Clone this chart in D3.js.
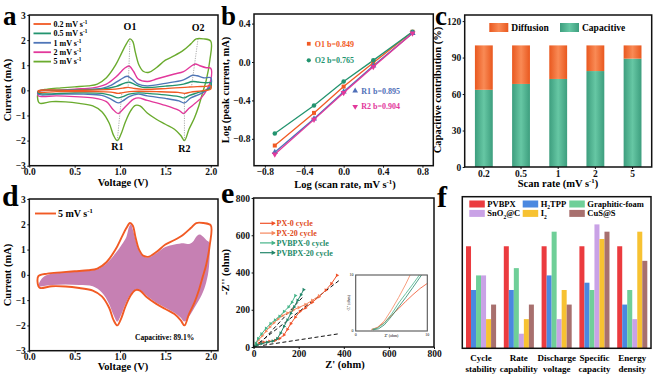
<!DOCTYPE html>
<html>
<head>
<meta charset="utf-8">
<script src="https://cdn.jsdelivr.net/npm/d3@7"></script>
<style>
  body { margin: 0; background: #fff; }
  svg { display: block; font-family: "Liberation Serif", "Times New Roman", serif; font-weight: bold; }
</style>
</head>
<body>
<svg id="fig" width="655" height="375"></svg>
<script>
// ---------------- data ----------------
// a: CV loops [V, mA], upper branch left->right then lower branch right->left
const cvRates = ["0.2", "0.5", "1", "2", "5"];
const cv02 = [[0.1,-0.02],[0.5,0.0],[0.9,0.04],[1.03,0.09],[1.09,0.12],[1.15,0.08],[1.25,0.04],[1.5,0.07],[1.75,0.13],[1.85,0.15],[1.95,0.16],[2.0,0.18],
  [2.0,0.05],[1.9,-0.02],[1.78,-0.07],[1.71,-0.12],[1.64,-0.08],[1.4,-0.05],[1.15,-0.04],[1.03,-0.09],[0.98,-0.12],[0.9,-0.07],[0.7,-0.05],[0.3,-0.05],[0.1,-0.07]];
const cv05 = [[0.1,-0.03],[0.4,0.0],[0.8,0.05],[0.96,0.16],[1.05,0.29],[1.1,0.32],[1.16,0.24],[1.25,0.12],[1.5,0.17],[1.7,0.25],[1.8,0.35],[1.86,0.33],[1.95,0.3],[2.0,0.3],
  [2.0,0.1],[1.94,0.0],[1.85,-0.1],[1.76,-0.21],[1.71,-0.3],[1.65,-0.25],[1.5,-0.18],[1.3,-0.12],[1.2,-0.1],[1.1,-0.15],[1.03,-0.25],[0.98,-0.3],[0.9,-0.2],[0.8,-0.12],[0.5,-0.1],[0.1,-0.11]];
const cv1 = [[0.1,-0.05],[0.3,0.0],[0.6,0.03],[0.8,0.08],[0.9,0.2],[1.0,0.42],[1.08,0.56],[1.13,0.45],[1.2,0.25],[1.3,0.18],[1.5,0.28],[1.7,0.42],[1.8,0.6],[1.85,0.58],[1.92,0.5],[2.0,0.5],
  [2.0,0.2],[1.95,0.0],[1.88,-0.15],[1.78,-0.3],[1.71,-0.5],[1.65,-0.42],[1.5,-0.32],[1.3,-0.22],[1.2,-0.15],[1.1,-0.25],[1.03,-0.42],[0.98,-0.5],[0.9,-0.35],[0.8,-0.2],[0.6,-0.15],[0.3,-0.15],[0.1,-0.16]];
const cv2 = [[0.1,-0.04],[0.3,0.0],[0.5,0.05],[0.7,0.1],[0.85,0.25],[0.96,0.55],[1.05,0.88],[1.1,0.97],[1.15,0.75],[1.2,0.45],[1.3,0.35],[1.4,0.45],[1.5,0.55],[1.6,0.65],[1.7,0.75],[1.78,0.95],[1.83,1.05],[1.88,0.98],[1.95,0.9],[2.0,0.88],
  [2.0,0.4],[1.96,0.05],[1.9,-0.28],[1.8,-0.6],[1.75,-0.75],[1.7,-0.92],[1.65,-0.8],[1.5,-0.6],[1.3,-0.4],[1.2,-0.3],[1.15,-0.35],[1.1,-0.5],[1.02,-0.8],[0.98,-0.92],[0.92,-0.75],[0.85,-0.45],[0.7,-0.3],[0.5,-0.25],[0.3,-0.22],[0.1,-0.22]];
const cv5 = [[0.1,-0.05],[0.2,0.05],[0.35,0.1],[0.5,0.14],[0.65,0.18],[0.75,0.25],[0.85,0.5],[0.95,1.0],[1.02,1.5],[1.07,1.85],[1.11,2.05],[1.14,1.95],[1.17,1.5],[1.21,1.0],[1.26,0.75],[1.32,0.72],[1.4,0.9],[1.5,1.2],[1.6,1.38],[1.7,1.6],[1.78,1.85],[1.84,2.05],[1.92,2.05],[2.0,1.96],
  [1.99,1.2],[1.95,0.4],[1.91,-0.1],[1.87,-0.6],[1.82,-1.1],[1.76,-1.55],[1.71,-2.0],[1.67,-1.8],[1.6,-1.55],[1.5,-1.35],[1.4,-1.15],[1.3,-0.9],[1.22,-0.62],[1.17,-0.6],[1.12,-0.8],[1.06,-1.25],[1.01,-1.75],[0.97,-2.0],[0.93,-1.8],[0.88,-1.3],[0.8,-0.85],[0.7,-0.62],[0.55,-0.52],[0.4,-0.46],[0.25,-0.45],[0.12,-0.52],[0.1,-0.45]];
const peakO1 = [[1.11,2.05],[1.09,0.12]];
const peakO2 = [[1.86,2.05],[1.79,0.2]];
const peakR1 = [[0.97,-2.0],[1.02,-0.12]];
const peakR2 = [[1.71,-2.0],[1.71,-0.12]];

// b: log peak current vs log scan rate
const logRate = [-0.699, -0.301, 0, 0.301, 0.699];
const logO1 = [-0.87, -0.53, -0.256, -0.007, 0.315];
const logO2 = [-0.744, -0.453, -0.204, 0.017, 0.315];
const logR1 = [-0.94, -0.59, -0.31, -0.04, 0.30];
const logR2 = [-0.96, -0.60, -0.32, -0.05, 0.30];
const peakNames = ["O1", "O2", "R1", "R2"];
const bValues = ["0.849", "0.765", "0.895", "0.904"];

// c: capacitive contribution (%)
const scanRates = ["0.2", "0.5", "1", "2", "5"];
const capacitive = [63.5, 68.3, 72.4, 78.9, 89.1];

// d: capacitive region at 5 mV/s
const capShape = [[0.1,-0.4],[0.15,-0.1],[0.25,0.05],[0.4,0.1],[0.6,0.15],[0.75,0.22],[0.85,0.45],[0.95,0.85],[1.02,1.2],[1.07,1.5],[1.1,1.9],[1.12,2.0],[1.14,1.8],[1.17,1.4],[1.21,0.95],[1.26,0.72],[1.32,0.7],[1.4,0.85],[1.5,1.1],[1.6,1.2],[1.7,1.25],[1.76,1.22],[1.8,1.3],[1.85,1.55],[1.88,1.6],[1.92,1.5],[1.96,1.35],[1.98,1.3],
  [1.98,0.3],[1.95,-0.3],[1.9,-0.8],[1.82,-1.3],[1.76,-1.65],[1.71,-1.85],[1.67,-1.7],[1.6,-1.5],[1.5,-1.3],[1.4,-1.1],[1.3,-0.85],[1.22,-0.6],[1.17,-0.58],[1.12,-0.75],[1.06,-1.15],[1.01,-1.6],[0.97,-1.85],[0.93,-1.6],[0.88,-1.15],[0.8,-0.7],[0.7,-0.45],[0.55,-0.4],[0.4,-0.38],[0.25,-0.4],[0.1,-0.45]];

// e: Nyquist plots [Z', -Z''] (ohm)
const eNames = ["PX-0 cycle", "PX-20 cycle", "PVBPX-0 cycle", "PVBPX-20 cycle"];
const px0 = [[5,3],[12,10],[25,18],[45,25],[70,30],[95,35],[115,45],[135,65],[150,95],[165,125],[185,160],[205,190],[230,210],[260,240],[290,270],[320,305],[345,340],[370,385]];
const px20 = [[3,3],[10,18],[22,38],[38,60],[55,85],[72,108],[90,130],[108,150],[128,168],[150,182],[175,198],[200,212],[230,228],[260,250],[290,275]];
const pvbpx0 = [[3,3],[10,20],[20,45],[35,70],[55,100],[75,125],[95,145],[115,165],[135,190],[155,215],[170,240],[185,276]];
const pvbpx20 = [[3,3],[15,10],[35,18],[60,25],[85,32],[105,45],[120,75],[135,110],[150,145],[165,180],[180,215],[195,250],[210,280],[222,308]];
const eFits = [[[0,0],[378,356]], [[28,18],[217,267]], [[42,9],[378,71]]];
// e inset, zoomed 0-10 ohm
const px0In = [[2.2,0.2],[3,0.6],[4,1.5],[5,2.8],[6,4.0],[7,5.3],[8,6.5],[9,7.6],[10,8.5]];
const px20In = [[2.2,0.3],[3,0.6],[4,1.8],[5,3.8],[6,6.0],[7,8.4],[7.6,10]];
const pvbpx0In = [[2.3,0.3],[3,0.5],[4,1.4],[5,3.0],[6,5.0],[7,6.7],[8,8.4],[8.9,10]];
const pvbpx20In = [[2.4,0.2],[3.2,0.4],[4,1.1],[5,2.6],[6,4.3],[7,6.0],[8,7.8],[9.2,10]];

// f: comparison scores
const metrics = [["Cycle", "stability"], ["Rate", "capability"], ["Discharge", "voltage"], ["Specific", "capacity"], ["Energy", "density"]];
const materials = ["PVBPX", "H2TPP", "Graphitic-foam", "SnO2@C", "I2", "CuS@S"];
const fPVBPX = [7, 7, 7, 7, 7];
const fH2TPP = [4, 4, 5, 4.5, 3];
const fGraphitic = [5, 5.5, 8, 4, 4];
const fSnO2 = [5, 1, 2, 8.5, 2];
const fI2 = [2, 2, 4, 7.5, 8];
const fCuS = [3, 3, 3, 8, 6];

// ---------------- drawing ----------------
const svg = d3.select("#fig");
const ink = "#111";
const cvColors = ["#f15a24", "#23946f", "#4f76b8", "#e2389b", "#6aab2e"];
const bColors = ["#f15a24", "#23946f", "#4f6fb8", "#e2389b"];
const eColors = ["#f0522a", "#f5875e", "#45b489", "#23866a"];
const fColors = ["#eb3b3f", "#4a88e0", "#6fcf98", "#c9a2e6", "#f7c232", "#a8706e"];

function rich(sel, parts, fs) {
  let off = 0;
  parts.forEach(([s, k]) => {
    const target = k === "sup" ? -fs * 0.38 : k === "sub" ? fs * 0.25 : 0;
    const t = sel.append("tspan").text(s).attr("dy", target - off);
    if (k) t.attr("font-size", fs * 0.65);
    off = target;
  });
  return sel;
}

function frame(g, x, y, w) {
  const [x0, x1] = x.range(), [y0, y1] = y.range();
  g.append("rect")
    .attr("x", Math.min(x0, x1)).attr("y", Math.min(y0, y1))
    .attr("width", Math.abs(x1 - x0)).attr("height", Math.abs(y1 - y0))
    .attr("fill", "none").attr("stroke", ink).attr("stroke-width", w || 1.5);
}

function styleAxis(g, fs) {
  g.attr("font-family", null).attr("font-size", null);
  g.select(".domain").remove();
  g.selectAll(".tick line").attr("stroke", ink);
  g.selectAll(".tick text").attr("fill", ink).attr("font-size", fs);
}

function bottomAxis(g, x, y0, ticks, fmt) {
  g.append("g").attr("transform", `translate(0,${y0})`)
    .call(d3.axisBottom(x).tickValues(ticks).tickFormat(fmt).tickSize(2).tickPadding(1))
    .call(a => styleAxis(a, 9.5));
}
function leftAxis(g, y, x0, ticks, fmt) {
  g.append("g").attr("transform", `translate(${x0},0)`)
    .call(d3.axisLeft(y).tickValues(ticks).tickFormat(fmt).tickSize(2).tickPadding(1.5))
    .call(a => styleAxis(a, 9.5));
}

function xTitle(g, x, y, parts) {
  rich(g.append("text").attr("x", x).attr("y", y).attr("text-anchor", "middle").attr("font-size", 10.5), parts, 10.5);
}
function yTitle(g, x, y, parts) {
  rich(g.append("text").attr("transform", `translate(${x},${y}) rotate(-90)`).attr("text-anchor", "middle").attr("font-size", 10.5), parts, 10.5);
}
function panelLetter(x, y, s, fs) {
  svg.append("text").attr("x", x).attr("y", y).attr("font-size", fs).text(s);
}

// ===== a =====
{
  const g = svg.append("g");
  const x = d3.scaleLinear([0, 2.08], [29.3, 218]);
  const y = d3.scaleLinear([-3, 3], [165.7, 15]);
  const line = d3.line(d => x(d[0]), d => y(d[1])).curve(d3.curveCatmullRomClosed.alpha(0.5));
  const sets = [cv02, cv05, cv1, cv2, cv5];
  for (let i = sets.length - 1; i >= 0; i--) {
    g.append("path").attr("d", line(sets[i])).attr("fill", "none")
      .attr("stroke", cvColors[i]).attr("stroke-width", 1.4);
  }
  const dl = d3.line(d => x(d[0]), d => y(d[1]));
  [peakO1, peakO2, peakR1, peakR2].forEach(p => {
    g.append("path").attr("d", dl(p)).attr("stroke", "#888").attr("stroke-width", 0.7)
      .attr("stroke-dasharray", "1.2,1.2").attr("fill", "none");
  });
  [["O1", peakO1[0], 0.45], ["O2", peakO2[0], 0.4], ["R1", peakR1[0], -0.3], ["R2", peakR2[0], -0.38]].forEach(([s, p, dy]) => {
    g.append("text").attr("x", x(p[0])).attr("y", y(p[1] + dy)).attr("text-anchor", "middle")
      .attr("dominant-baseline", "middle").attr("font-size", 10).text(s);
  });
  frame(g, x, y);
  bottomAxis(g, x, 165.7, [0, 0.5, 1, 1.5, 2], d3.format(".1f"));
  leftAxis(g, y, 29.3, [-3, -2, -1, 0, 1, 2, 3], d3.format("d"));
  xTitle(g, 123, 185.5, [["Voltage (V)"]]);
  yTitle(g, 11, 90, [["Current (mA)"]]);
  cvRates.forEach((r, i) => {
    const ly = 24 + i * 9.4;
    g.append("line").attr("x1", 33.5).attr("x2", 51).attr("y1", ly).attr("y2", ly)
      .attr("stroke", cvColors[i]).attr("stroke-width", 1.8);
    rich(g.append("text").attr("x", 53.5).attr("y", ly + 2.8).attr("font-size", 8), [[r + " mV s"], ["-1", "sup"]], 8);
  });
}

// ===== b =====
{
  const g = svg.append("g");
  const x = d3.scaleLinear([-0.91, 0.91], [254, 433.3]);
  const y = d3.scaleLinear([-1.08, 0.5], [165.7, 14]);
  const series = [logO1, logO2, logR1, logR2];
  const shapes = [d3.symbolSquare, d3.symbolCircle, d3.symbolTriangle, d3.symbolTriangle];
  const line = d3.line((d, i) => x(logRate[i]), d => y(d));
  series.forEach((s, k) => {
    g.append("path").attr("d", line(s)).attr("fill", "none").attr("stroke", bColors[k]).attr("stroke-width", 1.3);
  });
  series.forEach((s, k) => {
    g.selectAll(null).data(s).join("path")
      .attr("d", d3.symbol(shapes[k], 16))
      .attr("transform", (d, i) => `translate(${x(logRate[i])},${y(d)})${k === 3 ? " rotate(180)" : ""}`)
      .attr("fill", bColors[k]);
  });
  const legPos = [[-0.354, 0.19], [-0.354, 0.017], [0.117, -0.30], [0.117, -0.464]];
  peakNames.forEach((n, k) => {
    const [lx, ly] = legPos[k];
    g.append("path").attr("d", d3.symbol(shapes[k], 14))
      .attr("transform", `translate(${x(lx)},${y(ly)})${k === 3 ? " rotate(180)" : ""}`).attr("fill", bColors[k]);
    g.append("text").attr("x", x(lx) + 6).attr("y", y(ly) + 2.8).attr("font-size", 8)
      .attr("fill", bColors[k]).text(`${n} b=${bValues[k]}`);
  });
  frame(g, x, y);
  bottomAxis(g, x, 165.7, [-0.8, -0.4, 0, 0.4, 0.8], d3.format(".1f"));
  leftAxis(g, y, 254, [-0.8, -0.4, 0, 0.4], d3.format(".1f"));
  xTitle(g, 345, 187.5, [["Log (scan rate, mV s"], ["-1", "sup"], [")"]]);
  yTitle(g, 229, 90, [["Log (peak current, mA)"]]);
}

// ===== c =====
{
  const g = svg.append("g");
  const x = d3.scaleBand(scanRates, [464.7, 651.7]).paddingInner(0.52).paddingOuter(0.275);
  const y = d3.scaleLinear([0, 125], [167, 15]);
  const defs = svg.append("defs");
  [["gDiff", "#e9581f", "#f98a55"], ["gCap", "#3d9e7e", "#66c7a4"]].forEach(([id, e, m]) => {
    const lg = defs.append("linearGradient").attr("id", id);
    lg.append("stop").attr("offset", "0%").attr("stop-color", e);
    lg.append("stop").attr("offset", "50%").attr("stop-color", m);
    lg.append("stop").attr("offset", "100%").attr("stop-color", e);
  });
  g.selectAll(null).data(scanRates).join("rect")
    .attr("x", d => x(d)).attr("width", x.bandwidth())
    .attr("y", (d, i) => y(capacitive[i])).attr("height", (d, i) => y(0) - y(capacitive[i]))
    .attr("fill", "url(#gCap)");
  g.selectAll(null).data(scanRates).join("rect")
    .attr("x", d => x(d)).attr("width", x.bandwidth())
    .attr("y", y(100)).attr("height", (d, i) => y(capacitive[i]) - y(100))
    .attr("fill", "url(#gDiff)");
  frame(g, d3.scaleLinear().range([464.7, 651.7]), y);
  g.append("g").attr("transform", "translate(0,167)")
    .call(d3.axisBottom(x).tickSize(2).tickPadding(1)).call(a => styleAxis(a, 9.5));
  leftAxis(g, y, 464.7, [0, 30, 60, 90, 120], d3.format("d"));
  [["Diffusion", "url(#gDiff)", 489.3], ["Capacitive", "url(#gCap)", 560]].forEach(([s, f, lx]) => {
    g.append("rect").attr("x", lx).attr("y", 23).attr("width", 19).attr("height", 9).attr("fill", f);
    g.append("text").attr("x", lx + 22).attr("y", 30.8).attr("font-size", 9.5).text(s);
  });
  xTitle(g, 558, 187, [["Scan rate (mV s"], ["-1", "sup"], [")"]]);
  yTitle(g, 441, 90, [["Capacitive contribution (%)"]]);
}

// ===== d =====
{
  const g = svg.append("g");
  const x = d3.scaleLinear([0, 2.08], [29.3, 218]);
  const y = d3.scaleLinear([-3, 3], [350.7, 199]);
  const line = d3.line(d => x(d[0]), d => y(d[1])).curve(d3.curveCatmullRomClosed.alpha(0.5));
  g.append("path").attr("d", line(capShape)).attr("fill", "#c680b3").attr("stroke", "none");
  g.append("path").attr("d", line(cv5)).attr("fill", "none").attr("stroke", "#f15a24").attr("stroke-width", 1.9);
  frame(g, x, y);
  bottomAxis(g, x, 350.7, [0, 0.5, 1, 1.5, 2], d3.format(".1f"));
  leftAxis(g, y, 29.3, [-3, -2, -1, 0, 1, 2, 3], d3.format("d"));
  xTitle(g, 123, 370, [["Voltage (V)"]]);
  yTitle(g, 11, 275, [["Current (mA)"]]);
  g.append("line").attr("x1", 35).attr("x2", 56).attr("y1", 213.5).attr("y2", 213.5)
    .attr("stroke", "#f15a24").attr("stroke-width", 1.9);
  rich(g.append("text").attr("x", 58).attr("y", 217).attr("font-size", 10), [["5 mV s"], ["-1", "sup"]], 10);
  g.append("text").attr("x", 135).attr("y", 340).attr("font-size", 7.5).text("Capacitive: 89.1%");
}

// ===== e =====
{
  const g = svg.append("g");
  const x = d3.scaleLinear([0, 800], [253.6, 434]);
  const y = d3.scaleLinear([0, 800], [347, 198]);
  const sets = [px0, px20, pvbpx0, pvbpx20];
  const line = d3.line(d => x(d[0]), d => y(d[1]));
  eFits.forEach(f => {
    g.append("path").attr("d", line(f)).attr("stroke", ink).attr("stroke-width", 1)
      .attr("stroke-dasharray", "4,2.5").attr("fill", "none");
  });
  const tri = d3.symbol(d3.symbolTriangle, 6);
  sets.forEach((s, k) => {
    g.append("path").attr("d", line(s)).attr("fill", "none").attr("stroke", eColors[k]).attr("stroke-width", 1);
    g.selectAll(null).data(s).join("path").attr("d", tri)
      .attr("transform", d => `translate(${x(d[0])},${y(d[1])}) rotate(90)`).attr("fill", eColors[k]);
  });
  frame(g, x, y);
  bottomAxis(g, x, 347, [0, 200, 400, 600, 800], d3.format("d"));
  leftAxis(g, y, 253.6, [0, 200, 400, 600, 800], d3.format("d"));
  xTitle(g, 345, 368, [["Z' (ohm)"]]);
  yTitle(g, 229, 272, [["-Z'' (ohm)"]]);
  eNames.forEach((n, k) => {
    const ly = 223.3 + k * 9.8;
    g.append("line").attr("x1", 260).attr("x2", 275).attr("y1", ly).attr("y2", ly)
      .attr("stroke", eColors[k]).attr("stroke-width", 1.2);
    g.append("path").attr("d", d3.symbol(d3.symbolTriangle, 10))
      .attr("transform", `translate(273,${ly}) rotate(90)`).attr("fill", eColors[k]);
    g.append("text").attr("x", 276.5).attr("y", ly + 2.8).attr("font-size", 8)
      .attr("fill", k < 2 ? "#e04a22" : "#238a68").text(n);
  });
  // inset
  const xi = d3.scaleLinear([0, 10], [355.7, 427.3]);
  const yi = d3.scaleLinear([0, 10], [331, 275]);
  const li = d3.line(d => xi(d[0]), d => yi(d[1]));
  g.append("rect").attr("x", 355.7).attr("y", 275).attr("width", 71.6).attr("height", 56).attr("fill", "#fff");
  [px0In, px20In, pvbpx0In, pvbpx20In].forEach((s, k) => {
    g.append("path").attr("d", li(s)).attr("fill", "none").attr("stroke", eColors[k]).attr("stroke-width", 0.8);
  });
  g.append("rect").attr("x", 355.7).attr("y", 275).attr("width", 71.6).attr("height", 56)
    .attr("fill", "none").attr("stroke", "#555").attr("stroke-width", 1.1);
  const small = (tx, ty, s, anchor) => g.append("text").attr("x", tx).attr("y", ty).attr("font-size", 4)
    .attr("font-weight", "normal").attr("text-anchor", anchor || "middle").text(s);
  small(xi(0), 336, "0"); small(xi(10), 336, "10"); small(xi(5), 336.5, "Z' (ohm)");
  small(353.5, yi(0) + 1.3, "0", "end"); small(353.5, yi(10) + 1.3, "10", "end");
  g.append("text").attr("transform", `translate(350,303) rotate(-90)`).attr("text-anchor", "middle")
    .attr("font-size", 4).attr("font-weight", "normal").text("-Z'' (ohm)");
}

// ===== f =====
{
  const g = svg.append("g");
  const x = d3.scaleBand(d3.range(metrics.length), [462.3, 651]).paddingInner(0.204).paddingOuter(0.098);
  const xi = d3.scaleBand(materials, [0, x.bandwidth()]);
  const y = d3.scaleLinear([0, 10.4], [348.3, 196.7]);
  const fData = [fPVBPX, fH2TPP, fGraphitic, fSnO2, fI2, fCuS];
  fData.forEach((vals, k) => {
    g.selectAll(null).data(vals).join("rect")
      .attr("x", (d, i) => x(i) + xi(materials[k])).attr("width", xi.bandwidth())
      .attr("y", d => y(d)).attr("height", d => y(0) - y(d))
      .attr("fill", fColors[k]);
  });
  frame(g, d3.scaleLinear().range([462.3, 651]), y);
  metrics.forEach((m, i) => {
    m.forEach((s, j) => {
      g.append("text").attr("x", x(i) + x.bandwidth() / 2).attr("y", 361 + j * 11.2)
        .attr("text-anchor", "middle").attr("font-size", 9).text(s);
    });
  });
  const legX = [469.3, 522.7, 569.3];
  materials.forEach((mName, k) => {
    const lx = legX[k % 3], ly = 200.5 + Math.floor(k / 3) * 9.4;
    g.append("rect").attr("x", lx).attr("y", ly).attr("width", 15.5).attr("height", 7).attr("fill", fColors[k]);
    const parts = mName.split(/(\d)/).filter(p => p).map(p => /\d/.test(p) ? [p, "sub"] : [p]);
    rich(g.append("text").attr("x", lx + 18).attr("y", ly + 6.5).attr("font-size", 8.5), parts, 8.5);
  });
}

// panel letters: baseline kept low enough that the text box stays inside the page
panelLetter(3, 24.5, "a", 27);
panelLetter(221, 24.5, "b", 27);
panelLetter(435, 24.5, "c", 27);
panelLetter(2, 206, "d", 30);
panelLetter(221, 203, "e", 30);
panelLetter(437, 207, "f", 30);
</script>
</body>
</html>
